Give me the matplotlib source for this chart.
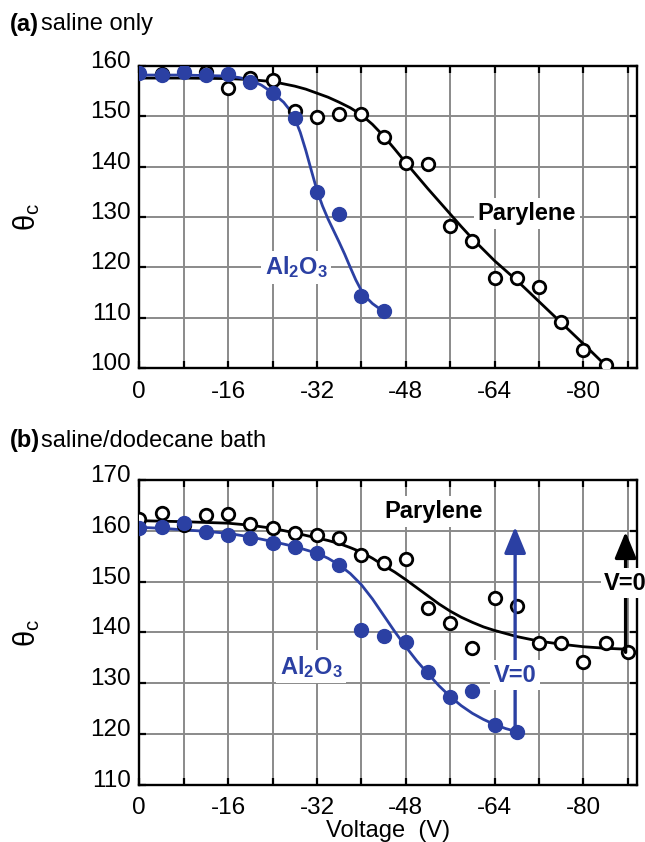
import matplotlib
matplotlib.use("Agg")
import matplotlib.pyplot as plt
import matplotlib.transforms as mtransforms

plt.rcParams['font.family'] = ['Liberation Sans', 'DejaVu Sans']
plt.rcParams['mathtext.fontset'] = 'custom'
plt.rcParams['mathtext.rm'] = 'Liberation Sans'
plt.rcParams['mathtext.it'] = 'Liberation Sans'
plt.rcParams['mathtext.bf'] = 'Liberation Sans:bold'

BLUE = '#2b40a3'
GRID = '#8a8a8a'
NARROW = ['Liberation Sans Narrow', 'Liberation Sans', 'DejaVu Sans']

# ---------------- data: panel (a) saline only ----------------
a_par_v = [-4, -12, -16, -20, -24, -28, -32, -36, -40, -44, -48, -52, -56, -60, -64, -68, -72, -76, -80, -84]
a_par_t = [158.4, 158.9, 155.6, 157.6, 157.2, 151.0, 149.8, 150.4, 150.4, 145.8, 140.7, 140.6, 128.2, 125.2, 117.8, 117.8, 116.0, 109.1, 103.5, 100.5]
a_al_v = [0, -4, -8, -12, -16, -20, -24, -28, -32, -36, -40, -44]
a_al_t = [158.6, 158.3, 158.8, 158.3, 158.4, 156.9, 154.6, 149.6, 135.0, 130.5, 114.3, 111.3]
# fitted curves
a_par_fit_v = [0, -8, -16, -20, -24, -28, -30, -32, -34, -36, -38, -40, -42, -44, -46, -48, -50, -52, -54,
               -56, -58, -60, -64, -68, -72, -76, -80, -84]
a_par_fit_t = [157.6, 157.6, 157.5, 157.3, 156.9, 156.0, 155.4, 154.6, 153.8, 152.8, 151.7, 150.3, 148.4, 146.1, 143.5,
               140.8, 138.2, 135.6, 133.1, 130.6, 128.1, 125.7, 121.3, 117.4, 113.2, 109.0, 104.8, 100.5]
a_al_fit_v = [0, -8, -16, -18, -20, -22, -24, -26, -27, -28, -29, -30, -31, -32, -33, -34, -35, -36, -37, -38,
              -39, -40, -41, -42, -43, -44]
a_al_fit_t = [158.2, 158.2, 158.0, 157.7, 157.2, 156.2, 154.7, 152.8, 151.4, 149.6, 146.8, 143.2, 139.2, 135.3,
              132.2, 129.6, 127.3, 125.0, 122.6, 120.0, 117.5, 115.4, 113.9, 112.8, 112.0, 111.4]

# ---------------- data: panel (b) saline/dodecane bath ----------------
b_par_v = [0, -4, -8, -12, -16, -20, -24, -28, -32, -36, -40, -44, -48, -52, -56, -60, -64, -68, -72, -76, -80, -84, -88]
b_par_t = [162.3, 163.6, 161.2, 163.1, 163.3, 161.3, 160.5, 159.6, 159.2, 158.5, 155.2, 153.6, 154.5, 144.8, 141.8, 136.9, 146.7, 145.2, 138.0, 137.9, 134.1, 138.0, 136.1]
b_al_v = [0, -4, -8, -12, -16, -20, -24, -28, -32, -36, -40, -44, -48, -52, -56, -60, -64, -68]
b_al_t = [160.5, 160.8, 161.6, 159.8, 159.2, 158.5, 157.7, 156.8, 155.6, 153.3, 140.5, 139.3, 138.2, 132.3, 127.4, 128.4, 121.8, 120.5]
b_par_fit_v = [0, -8, -16, -20, -24, -28, -32, -34, -36, -38, -40, -42, -44, -46, -48, -50, -52, -54, -56, -58,
               -60, -62, -64, -68, -72, -76, -80, -84, -88]
b_par_fit_t = [162.0, 161.8, 161.5, 161.1, 160.5, 159.6, 158.6, 158.1, 157.5, 156.7, 155.8, 154.6, 153.2, 151.9,
               150.4, 148.8, 147.2, 145.6, 144.2, 143.0, 142.0, 141.1, 140.4, 139.2, 138.3, 137.7, 137.2, 136.9, 136.7]
b_al_fit_v = [0, -4, -8, -12, -16, -20, -24, -28, -32, -34, -36, -38, -40, -42, -44, -46, -48, -50, -52, -54,
              -56, -58, -60, -62, -64, -66, -68]
b_al_fit_t = [160.7, 160.5, 160.2, 159.9, 159.5, 158.8, 157.9, 156.9, 155.6, 154.6, 153.3, 151.6, 149.4, 146.6,
              143.4, 140.2, 137.2, 134.4, 131.9, 129.5, 127.4, 125.6, 124.1, 122.9, 121.9, 121.1, 120.5]

x_ticks = [0, -8, -16, -24, -32, -40, -48, -56, -64, -72, -80, -88]
x_ticklabels = ['0', '', '-16', '', '-32', '', '-48', '', '-64', '', '-80', '']
a_yticks = [100, 110, 120, 130, 140, 150, 160]
b_yticks = [110, 120, 130, 140, 150, 160, 170]

fig = plt.figure(figsize=(6.45, 8.42), dpi=100)
W, H = 645, 842
L, R = 139.3, 636.7
axa = fig.add_axes([L / W, (H - 368) / H, (R - L) / W, (368 - 66) / H])
axb = fig.add_axes([L / W, (H - 785) / H, (R - L) / W, (785 - 480) / H])


def style(ax, yticks):
    ax.set_xlim(0, -89.6)
    ax.set_ylim(yticks[0], yticks[-1])
    ax.set_xticks(x_ticks)
    ax.set_xticklabels(x_ticklabels)
    ax.set_yticks(yticks)
    ax.set_yticklabels([str(t) for t in yticks])
    ax.grid(True, color=GRID, lw=1.4)
    ax.set_axisbelow(True)
    ax.tick_params(direction='in', length=5, width=1.6, top=True, right=True,
                   labelsize=17.5, pad=6, colors='black')
    ax.tick_params(axis='x', pad=9)
    for lab in ax.get_xticklabels() + ax.get_yticklabels():
        lab.set_family(NARROW)
    for s in ax.spines.values():
        s.set_linewidth(1.7)
    off = mtransforms.ScaledTranslation(0, 6.5 / 100, fig.dpi_scale_trans)
    for lab in ax.get_yticklabels():
        lab.set_transform(lab.get_transform() + off)
    ax.set_ylabel(r'$\mathrm{θ_c}$', fontsize=21, labelpad=0)
    ax.yaxis.set_label_coords(-0.196, 0.5)


style(axa, a_yticks)
style(axb, b_yticks)

kw_open = dict(marker='o', ls='none', ms=9, mfc='white', mec='black', mew=2.0, zorder=4)
kw_fill = dict(marker='o', ls='none', ms=10, mfc=BLUE, mec=BLUE, zorder=5)

# panel (a)
axa.plot(a_par_fit_v, a_par_fit_t, color='black', lw=2.0, zorder=3)
axa.plot(a_par_v, a_par_t, **kw_open)
axa.plot(a_al_fit_v, a_al_fit_t, color=BLUE, lw=2.0, zorder=3)
axa.plot(a_al_v, a_al_t, **kw_fill)
bbox = dict(boxstyle='square,pad=0.15', fc='white', ec='none')
axa.text(-69.8, 130.7, 'Parylene', fontsize=17, fontweight='bold', ha='center', va='center',
         bbox=bbox, zorder=6)
axa.text(-28.3, 120.0, r'$\mathbf{Al_2O_3}$', fontsize=17, color=BLUE, ha='center', va='center',
         bbox=bbox, zorder=6)

# panel (b)
axb.plot(b_par_fit_v, b_par_fit_t, color='black', lw=2.0, zorder=3)
axb.plot(b_par_v, b_par_t, **kw_open)
axb.plot(b_al_fit_v, b_al_fit_t, color=BLUE, lw=2.0, zorder=3)
axb.plot(b_al_v, b_al_t, **kw_fill)
axb.text(-53.0, 163.8, 'Parylene', fontsize=17, fontweight='bold', ha='center', va='center',
         bbox=bbox, zorder=6)
axb.text(-31.0, 133.3, r'$\mathbf{Al_2O_3}$', fontsize=17, color=BLUE, ha='center', va='center',
         bbox=bbox, zorder=6)

arrow_kw = dict(arrowstyle='-|>,head_length=0.8,head_width=0.33', lw=2.4, mutation_scale=20,
                shrinkA=0, shrinkB=0)
axb.annotate('', xy=(-67.7, 160.8), xytext=(-67.7, 120.5),
             arrowprops=dict(color=BLUE, **arrow_kw), zorder=4)
axb.text(-67.7, 131.6, 'V=0', fontsize=17, fontweight='bold', color=BLUE, ha='center', va='center',
         bbox=bbox, zorder=7)
axb.annotate('', xy=(-87.6, 159.8), xytext=(-87.6, 136.1),
             arrowprops=dict(color='black', **arrow_kw), zorder=4, annotation_clip=False)
axb.text(-87.6, 149.7, 'V=0', fontsize=17, fontweight='bold', color='black', ha='center', va='center',
         bbox=bbox, zorder=7, clip_on=False)

axb.set_xlabel('Voltage  (V)', fontsize=17, labelpad=0)

fig.text(10 / W, 1 - 24 / H, '(a)', fontsize=17, fontweight='bold', va='center', ha='left')
fig.text(41 / W, 1 - 24 / H, 'saline only', fontsize=17, va='center', ha='left')
fig.text(10 / W, 1 - 441 / H, '(b)', fontsize=17, fontweight='bold', va='center', ha='left')
fig.text(41 / W, 1 - 441 / H, 'saline/dodecane bath', fontsize=17, va='center', ha='left')

fig.savefig('out.png', dpi=100)
